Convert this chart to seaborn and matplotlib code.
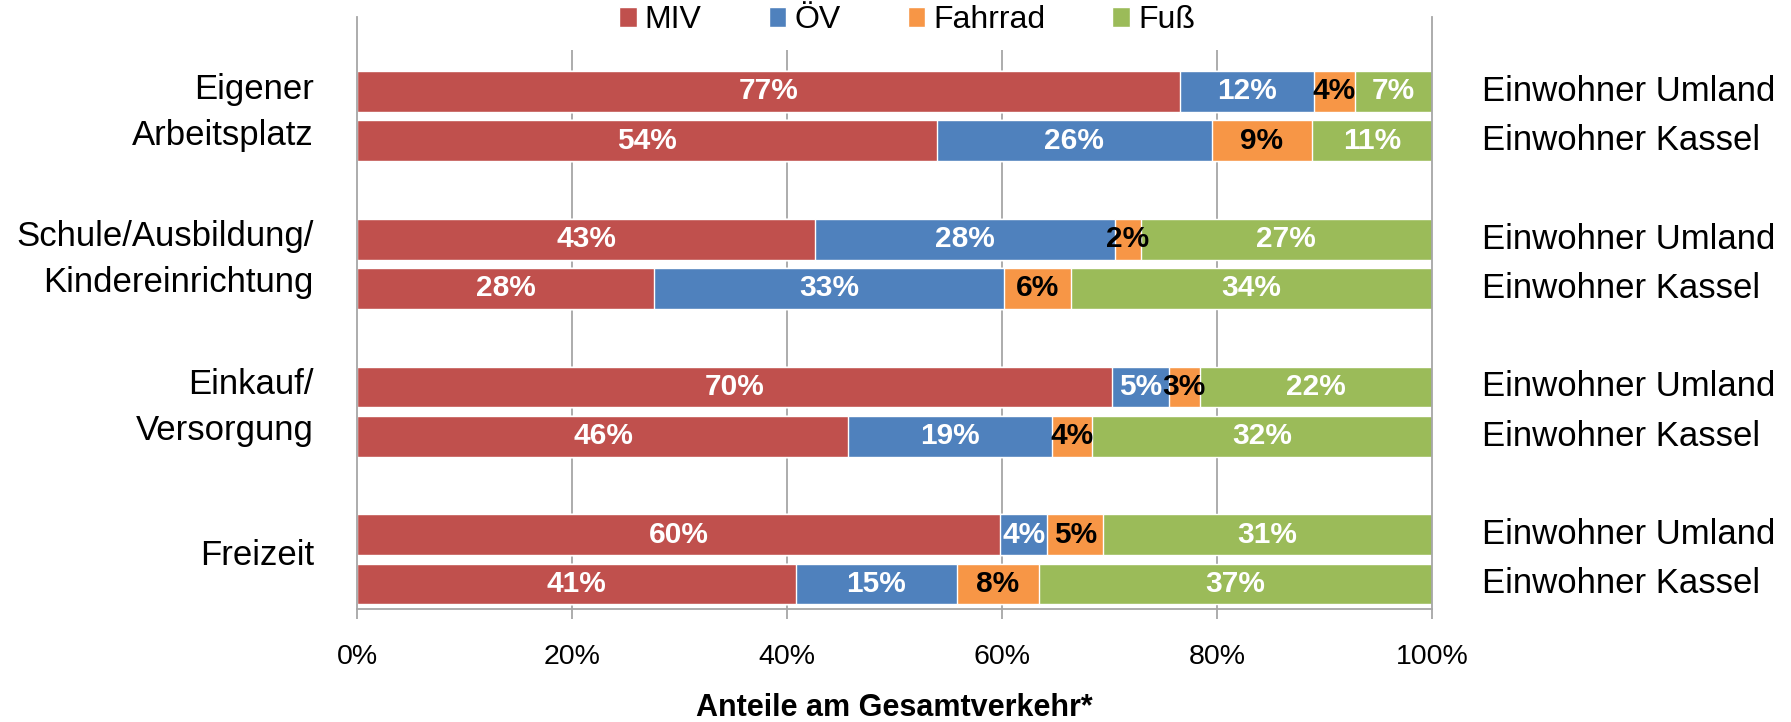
import pandas as pd
import seaborn as sns
from matplotlib import pyplot as plt
from matplotlib.patches import Patch

# Daten: Anteile je Verkehrsmittel (Umland / Kassel je Wegezweck)
categories = ["Eigener\nArbeitsplatz", "Schule/Ausbildung/\nKindereinrichtung",
              "Einkauf/\nVersorgung", "Freizeit"]
groups = ["Einwohner Umland", "Einwohner Kassel"]
modes = ["MIV", "ÖV", "Fahrrad", "Fuß"]
miv = [76.6, 53.9, 42.6, 27.6, 70.2, 45.7, 59.8, 40.8]
oev = [12.4, 25.6, 27.9, 32.6, 5.3, 18.9, 4.4, 15.0]
fahrrad = [3.8, 9.3, 2.4, 6.2, 2.9, 3.8, 5.2, 7.6]
fuss = [7.2, 11.2, 27.1, 33.6, 21.6, 31.6, 30.6, 36.6]
xticks = [0, 20, 40, 60, 80, 100]

colors = {"MIV": "#C0504D", "ÖV": "#4F81BD", "Fahrrad": "#F79646", "Fuß": "#9BBB59"}
label_colors = {"MIV": "white", "ÖV": "white", "Fahrrad": "black", "Fuß": "white"}
slots = [0, 1, 3, 4, 6, 7, 9, 10]  # Zeilenpositionen mit Lücke zwischen den Gruppen

df = pd.DataFrame({"pos": slots, "MIV": miv, "ÖV": oev, "Fahrrad": fahrrad, "Fuß": fuss})
cum = df[modes].cumsum(axis=1)

sns.set_theme(style="white")
plt.rcParams['font.family'] = ['Liberation Sans', 'DejaVu Sans']
plt.rcParams['text.color'] = 'black'
plt.rcParams['xtick.color'] = 'black'

fig = plt.figure(figsize=(17.91, 7.22), dpi=100)
ax = fig.add_axes([0.1996, 0.1565, 0.5999, 0.82])

grid_col = "#A6A6A6"
ylim_bottom, ylim_top = 10.508, -1.513

# gestapelte Balken: Summen von hinten nach vorne übereinander zeichnen
for m in reversed(modes):
    sns.barplot(x=cum[m], y=df["pos"], orient="h", native_scale=True,
                color=colors[m], saturation=1, width=0.83, errorbar=None,
                ax=ax, zorder=2)

ax.set_ylim(ylim_bottom, ylim_top)
ax.set_xlim(0, 100)
ax.vlines(xticks[1:-1], ylim_bottom, -0.843, color=grid_col, lw=1.3, zorder=1)

# Prozentwerte in den Segmenten
for m in modes:
    for i in range(len(df)):
        v = df[m].iloc[i]
        left = cum[m].iloc[i] - v
        ax.text(left + v / 2, df["pos"].iloc[i], f"{round(v)}%", ha="center", va="center",
                fontsize=21.5, fontweight="bold", color=label_colors[m], zorder=3)

ax.set_xticks(xticks)
ax.set_xticklabels([f"{t}%" for t in xticks])
ax.set_yticks([])
ax.set_xlabel("")
ax.set_ylabel("")
ax.tick_params(axis="x", bottom=True, direction="out", length=7, width=1.3,
               color=grid_col, pad=18, labelsize=20.5, labelcolor="black")
for s in ["left", "right", "bottom"]:
    ax.spines[s].set_visible(True)
    ax.spines[s].set_color(grid_col)
    ax.spines[s].set_linewidth(1.3)
ax.spines["top"].set_visible(False)

# Beschriftungen links (Wegezweck) und rechts (Wohnort)
ytr = ax.get_yaxis_transform()
for k, cat in enumerate(categories):
    yc = (slots[2 * k] + slots[2 * k + 1]) / 2 - 0.08
    ax.text(-0.0405, yc, cat, transform=ytr, ha="right", va="center",
            multialignment="right", fontsize=25, linespacing=1.5, color="black")
for i, p in enumerate(slots):
    ax.text(1.0466, p, groups[i % 2], transform=ytr, ha="left", va="center",
            fontsize=25, color="black")

handles = [Patch(facecolor=colors[m], label=m) for m in modes]
fig.legend(handles=handles, loc="center", bbox_to_anchor=(0.5065, 0.972), ncol=4,
           frameon=False, fontsize=23, handlelength=0.55, handleheight=0.55,
           handletextpad=0.25, columnspacing=2.1, labelcolor="black")

fig.text(0.4996, 0.0194, "Anteile am Gesamtverkehr*", ha="center", va="center",
         fontsize=22, fontweight="bold", color="black")

fig.savefig("out.png", dpi=100)
